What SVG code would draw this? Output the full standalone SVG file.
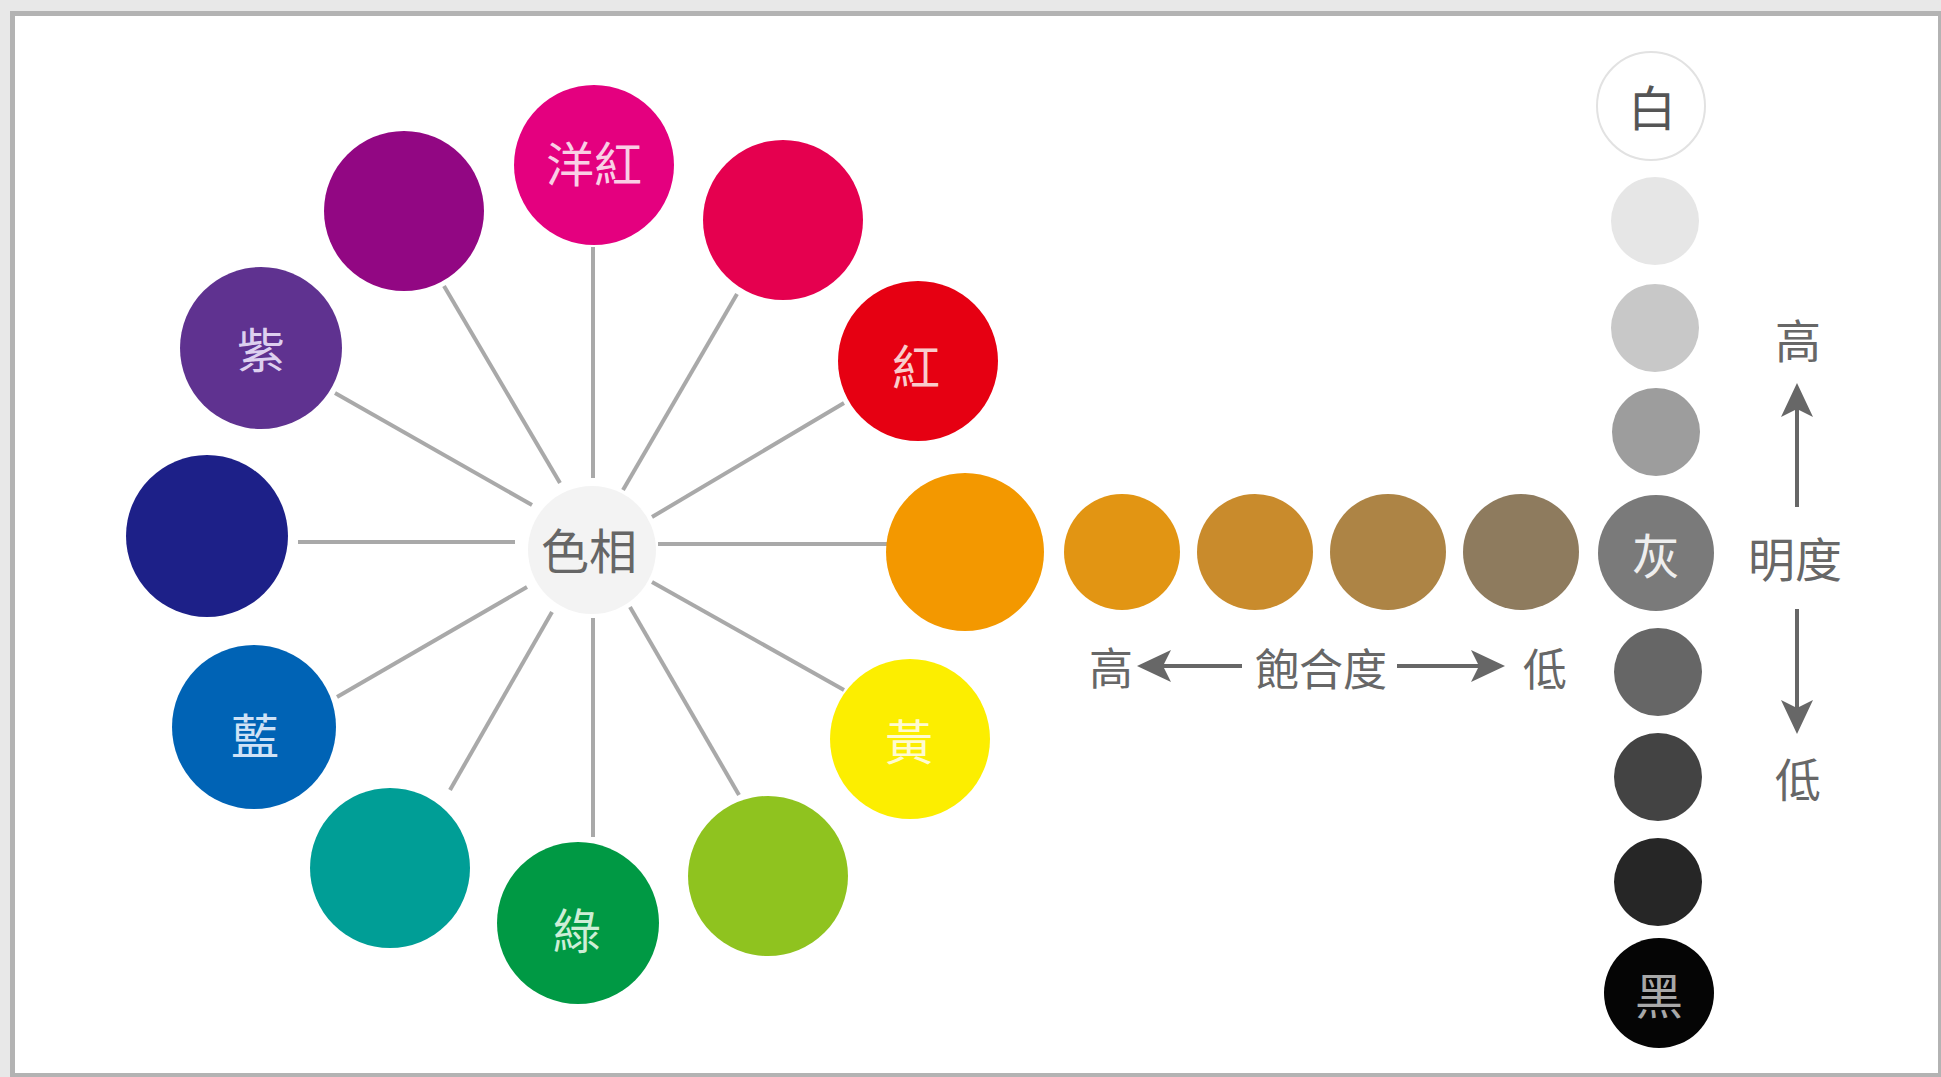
<svg xmlns="http://www.w3.org/2000/svg" width="1941" height="1077" viewBox="0 0 1941 1077">
<style>
text{font-family:"Noto Sans CJK TC","Noto Sans CJK SC",sans-serif;text-anchor:middle;dominant-baseline:central}
.spoke{stroke:#a9a9a9;stroke-width:4;fill:none}
.arrow{stroke:#676767;stroke-width:4;fill:none;marker-end:url(#head)}
.lbl{fill:#676767;font-size:44px}
.in{font-size:48px}
.gs{fill:#e6e6e6}
</style>
<defs>
<marker id="head" markerUnits="userSpaceOnUse" markerWidth="34" markerHeight="34" viewBox="0 0 34 34" refX="14" refY="17" orient="auto">
<path d="M0,1 L34,17 L0,33 L8,17 Z" fill="#676767"/>
</marker>
</defs>
<rect x="0" y="0" width="1941" height="1077" fill="#e8e8e8"/>
<rect x="10" y="11" width="1931" height="1066" fill="#b3b3b3"/>
<rect x="15" y="16" width="1923" height="1057" fill="#ffffff"/>

<g id="connectors">
<line class="spoke" x1="593" y1="247" x2="593" y2="478"/>
<line class="spoke" x1="444" y1="286" x2="560" y2="483"/>
<line class="spoke" x1="335" y1="393" x2="532" y2="505"/>
<line class="spoke" x1="298" y1="542" x2="515" y2="542"/>
<line class="spoke" x1="337" y1="697" x2="527" y2="587"/>
<line class="spoke" x1="450" y1="790" x2="552" y2="612"/>
<line class="spoke" x1="593" y1="837" x2="593" y2="618"/>
<line class="spoke" x1="739" y1="795" x2="630" y2="607"/>
<line class="spoke" x1="844" y1="690" x2="652" y2="582"/>
<line class="spoke" x1="888" y1="544" x2="658" y2="544"/>
<line class="spoke" x1="844" y1="403" x2="652" y2="517"/>
<line class="spoke" x1="737" y1="294" x2="623" y2="490"/>
<line class="arrow" x1="1242" y1="666" x2="1157" y2="666"/>
<line class="arrow" x1="1397" y1="666" x2="1485" y2="666"/>
<line class="arrow" x1="1797" y1="507" x2="1797" y2="403"/>
<line class="arrow" x1="1797" y1="609" x2="1797" y2="714"/>
</g>

<g id="hub">
<circle cx="592" cy="550" r="64" fill="#f3f3f3"/>
<text x="589" y="548" class="in" fill="#666666">色相</text>
</g>

<g id="magenta"><circle cx="594" cy="165" r="80" fill="#e4007f"/><text x="594" y="161" class="in" fill="#f9cfe5">洋紅</text></g>
<g id="purple-red"><circle cx="404" cy="211" r="80" fill="#920783"/></g>
<g id="purple"><circle cx="261" cy="348" r="81" fill="#5f3290"/><text x="261" y="347" class="in" fill="#ddd0ef">紫</text></g>
<g id="navy"><circle cx="207" cy="536" r="81" fill="#1d2088"/></g>
<g id="blue"><circle cx="254" cy="727" r="82" fill="#0063b5"/><text x="255" y="733" class="in" fill="#cfe2f6">藍</text></g>
<g id="teal"><circle cx="390" cy="868" r="80" fill="#009e96"/></g>
<g id="green"><circle cx="578" cy="923" r="81" fill="#009944"/><text x="577" y="928" class="in" fill="#cdeed6">綠</text></g>
<g id="yellow-green"><circle cx="768" cy="876" r="80" fill="#8fc31f"/></g>
<g id="yellow"><circle cx="910" cy="739" r="80" fill="#fcee00"/><text x="909" y="739" class="in" fill="#fffbd0">黃</text></g>
<g id="orange"><circle cx="965" cy="552" r="79" fill="#f39800"/></g>
<g id="red"><circle cx="918" cy="361" r="80" fill="#e60012"/><text x="916" y="364" class="in" fill="#f9cccc">紅</text></g>
<g id="crimson"><circle cx="783" cy="220" r="80" fill="#e5004f"/></g>

<g id="sat1"><circle cx="1122" cy="552" r="58" fill="#e29513"/></g>
<g id="sat2"><circle cx="1255" cy="552" r="58" fill="#c98b2c"/></g>
<g id="sat3"><circle cx="1388" cy="552" r="58" fill="#ad8445"/></g>
<g id="sat4"><circle cx="1521" cy="552" r="58" fill="#8e7b5e"/></g>

<g id="saturation-labels">
<text x="1111" y="666" class="lbl">高</text>
<text x="1321" y="667" class="lbl">飽合度</text>
<text x="1545" y="667" class="lbl">低</text>
</g>

<g id="white"><circle cx="1651" cy="106" r="54" fill="#ffffff" stroke="#e2e2e2" stroke-width="2"/><text x="1652" y="105" class="in" fill="#555555">白</text></g>
<g id="gray1"><circle cx="1655" cy="221" r="44" fill="#e6e6e6"/></g>
<g id="gray2"><circle cx="1655" cy="328" r="44" fill="#c8c8c8"/></g>
<g id="gray3"><circle cx="1656" cy="432" r="44" fill="#9d9d9d"/></g>
<g id="gray"><circle cx="1656" cy="553" r="58" fill="#7a7a7a"/><text x="1656" y="553" class="in" fill="#eeeeee">灰</text></g>
<g id="gray4"><circle cx="1658" cy="672" r="44" fill="#666666"/></g>
<g id="gray5"><circle cx="1658" cy="777" r="44" fill="#434343"/></g>
<g id="gray6"><circle cx="1658" cy="882" r="44" fill="#262626"/></g>
<g id="black"><circle cx="1659" cy="993" r="55" fill="#050505"/><text x="1659" y="993" class="in" fill="#a8a8a8">黑</text></g>

<g id="brightness-labels">
<text x="1798" y="338" class="lbl" style="font-size:46px">高</text>
<text x="1795" y="556" class="lbl" style="font-size:47px">明度</text>
<text x="1798" y="777" class="lbl" style="font-size:46px">低</text>
</g>
</svg>
